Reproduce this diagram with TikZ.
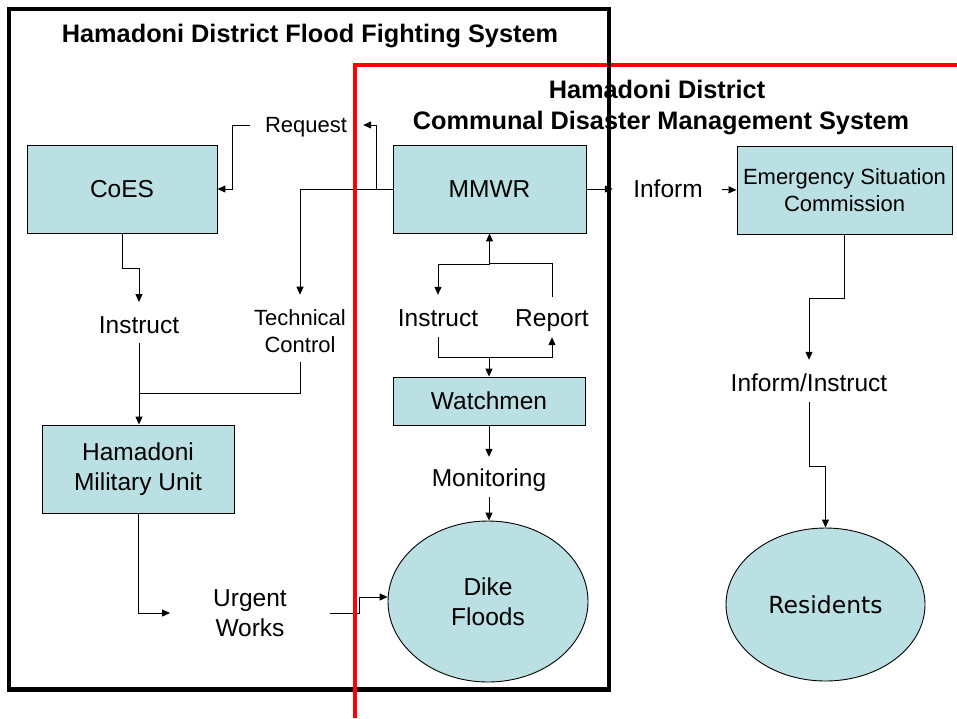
\documentclass[tikz,border=0pt]{standalone}
\usepackage{fontspec}
\setmainfont{Liberation Sans}
\newfontfamily\resfont{DejaVu Sans}
\usetikzlibrary{arrows.meta,shapes.geometric,calc}
\definecolor{boxfill}{RGB}{187,224,227}
\begin{document}
\begin{tikzpicture}[x=1pt,y=-1pt,
  box/.style={draw=black, line width=0.9pt, fill=boxfill, inner sep=0pt,
    font=\fontsize{24.5}{29.5}\selectfont, align=center},
  oval/.style={ellipse, draw=black, line width=0.9pt, fill=boxfill, inner sep=0pt,
    font=\fontsize{24.5}{29.5}\selectfont, align=center},
  lbl/.style={inner sep=0pt, text height=17.5pt, text depth=0pt,
    font=\fontsize{24.5}{29.5}\selectfont},
  lblsmall/.style={inner sep=0pt, text height=15.8pt, text depth=0pt,
    font=\fontsize{22}{26.5}\selectfont},
  lbltwo/.style={inner sep=0pt, align=center, font=\fontsize{24.5}{29.5}\selectfont},
  lbltwosmall/.style={inner sep=0pt, align=center, font=\fontsize{22}{26.5}\selectfont},
  title/.style={inner sep=0pt, text height=18pt, text depth=0pt,
    font=\fontsize{25.3}{31}\selectfont\bfseries},
  conn/.style={line width=1pt, -{Triangle[length=8pt,width=7pt]}},
  wire/.style={line width=1pt},
  frame/.style={line width=4.3pt}
]
\useasboundingbox (0,0) rectangle (957,718);

% titles
\node[title] (t1) at (310,33) {Hamadoni District Flood Fighting System};
\node[title] (t2a) at (657,89) {Hamadoni District};
\node[title] (t2b) at (661,120) {Communal Disaster Management System};

% boxes
\node[box, minimum width=190pt, minimum height=88pt] (coes) at (122,189) {CoES};
\node[box, minimum width=193pt, minimum height=88pt] (mmwr) at (489.5,189) {MMWR};
\node[box, minimum width=215pt, minimum height=88pt,
  font=\fontsize{22}{26.5}\selectfont] (esc) at (844.5,190) {Emergency Situation\\Commission};
\node[box, minimum width=192pt, minimum height=88pt] (hmu) at (138,469) {Hamadoni\\Military Unit};
\node[box, minimum width=192pt, minimum height=48pt] (watch) at (489,401) {Watchmen};
\node[oval, minimum width=200pt, minimum height=161pt] (dike) at (488,601.5) {Dike\\Floods};
\node[oval, minimum width=199pt, minimum height=153pt,
  font=\resfont\fontsize{23.5}{28}\selectfont] (res) at (825.5,604.5) {\raisebox{-3pt}{Residents}};

% connector labels
\node[lblsmall] (request) at (306,125) {Request};
\node[lbl] (instrL) at (139,325) {Instruct};
\node[lbltwosmall] (tech) at (300,331) {Technical\\Control};
\node[lbl] (instrM) at (438,318) {Instruct};
\node[lbl] (report) at (552,318) {Report};
\node[lbl] (monit) at (489,478) {Monitoring};
\node[lbl] (inform) at (668,189) {Inform};
\node[lbl] (infinst) at (809,383) {Inform/Instruct};
\node[lbltwo] (urgent) at (250,613) {Urgent\\Works};

% flood fighting side
\coordinate (rq) at ($(mmwr.west)+(-16,0)$);
\draw[conn, shorten >=14.75pt] (mmwr.west) -| (tech.north);
\draw[conn, shorten >=16pt] (rq) |- (request.east);
\draw[conn, shorten <=15pt] (request.west) -- ++(-32,0) |- (coes.east);
\draw[conn, shorten >=14pt] (coes.south) -- ++(0,35) -| (instrL.north);
\draw[conn, shorten <=9pt] (instrL.south) -- (instrL.south |- hmu.north);
\draw[wire, shorten <=9.75pt] (tech.south) -- ++(0,41) coordinate (tj) -- (tj -| instrL.south);
\draw[conn, shorten >=43pt] (hmu.south) |- (urgent.west);
\draw[conn, shorten <=43pt] (urgent.east) -- ++(73,0) |- ([yshift=4.5pt]dike.west);

% MMWR and watchmen
\draw[conn, shorten <=12.25pt] (report.north) -- ++(0,-45.25) -| (mmwr.south);
\draw[conn, shorten >=14.25pt] (mmwr.south) ++(0,31) -| (instrM.north);
\draw[conn, shorten <=10.25pt, shorten >=10.25pt] (instrM.south) -- ++(0,30.25) -| (report.south);
\draw[conn] (watch.north) ++(0,-20) -- (watch.north);
\draw[conn, shorten >=12.25pt] (watch.south) -- (watch.south |- monit.north);
\draw[conn, shorten <=10.25pt] (monit.south) -- (monit.south |- dike.north);

% communal side
\draw[conn, shorten >=20.3pt] (mmwr.east) -- (inform.west);
\draw[conn, shorten <=19.3pt] (inform.east) -- (esc.west);
\draw[conn, shorten >=14.25pt] (esc.south) -- ++(0,64) -| (infinst.north);
\draw[conn, shorten <=10.25pt] (infinst.south) -- ++(0,74.25) -| (res.north);

% system frames
\draw[frame] (9,9) rectangle (609,689.5);
\draw[frame, red] (355,718) -- (355,65) -- (957,65);
\draw[frame] (609,40) -- (609,100);
\end{tikzpicture}
\end{document}
